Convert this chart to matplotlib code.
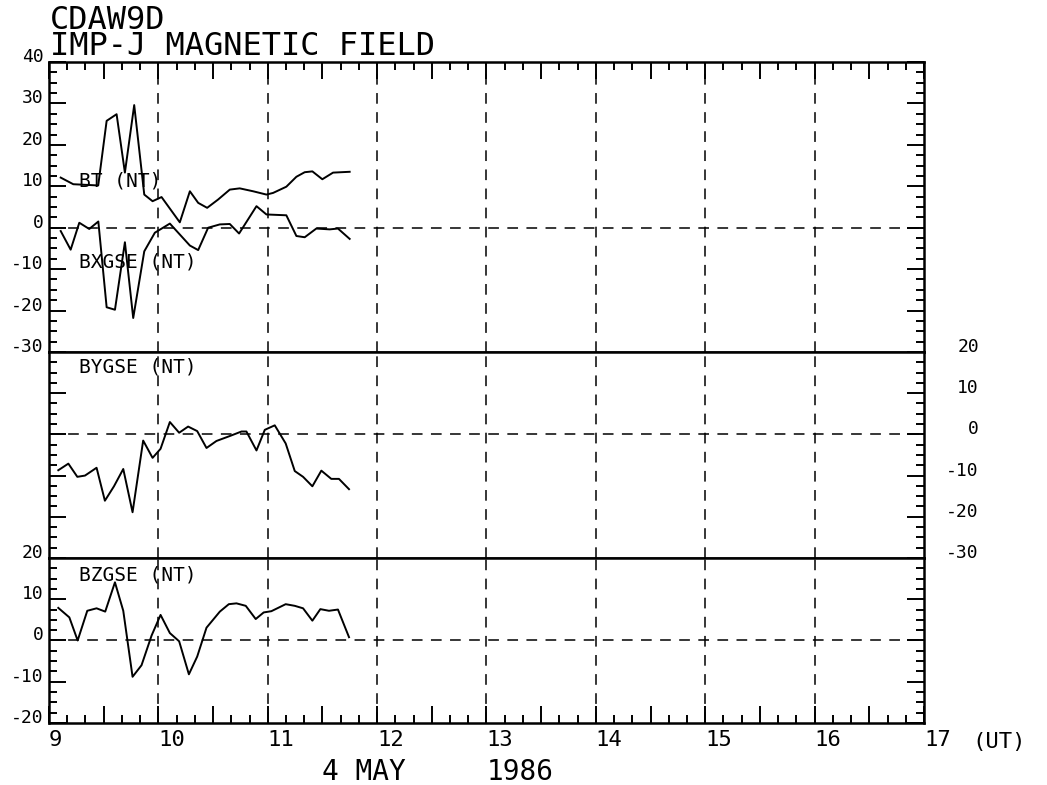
import matplotlib
matplotlib.use('Agg')
import matplotlib.pyplot as plt
import matplotlib.transforms as mtransforms
from matplotlib.ticker import MultipleLocator, FuncFormatter

# IMP-J magnetic field, 4 May 1986 (UT hours)
bt_time = [9.107, 9.222, 9.45, 9.527, 9.618, 9.694, 9.779, 9.871, 9.947, 10.029, 10.196, 10.288, 10.364,
           10.446, 10.546, 10.653, 10.744, 10.866, 10.988, 11.049, 11.17, 11.262, 11.338, 11.408, 11.499,
           11.597, 11.749]
bt_vals = [12.1, 10.5, 10.2, 25.8, 27.4, 13.3, 29.6, 8.0, 6.4, 7.4, 1.3, 8.8, 6.0,
           4.8, 6.8, 9.2, 9.5, 8.8, 8.0, 8.4, 9.9, 12.3, 13.4, 13.6, 11.7,
           13.3, 13.5]

bx_time = [9.107, 9.198, 9.277, 9.368, 9.451, 9.527, 9.603, 9.694, 9.770, 9.871, 9.968, 10.105, 10.288,
           10.364, 10.455, 10.562, 10.653, 10.738, 10.897, 10.988, 11.170, 11.262, 11.338, 11.444, 11.566,
           11.642, 11.749]
bx_vals = [-0.8, -5.3, 1.2, -0.3, 1.5, -19.2, -19.8, -3.5, -21.8, -5.7, -1.2, 1.0, -4.3,
           -5.4, 0.0, 0.8, 0.9, -1.4, 5.2, 3.2, 3.0, -2.0, -2.3, -0.2, -0.4,
           -0.2, -2.7]

by_time = [9.085, 9.177, 9.259, 9.329, 9.435, 9.511, 9.594, 9.679, 9.764, 9.861, 9.947, 10.020, 10.105,
           10.190, 10.272, 10.355, 10.440, 10.531, 10.653, 10.760, 10.805, 10.897, 10.973, 11.064, 11.164,
           11.247, 11.323, 11.408, 11.490, 11.581, 11.651, 11.743]
by_vals = [-8.7, -7.1, -10.3, -10.0, -8.1, -16.1, -12.6, -8.4, -18.9, -1.5, -5.7, -3.5, 3.0,
           0.4, 1.9, 0.8, -3.3, -1.6, -0.4, 0.7, 0.7, -3.9, 1.1, 2.2, -2.2,
           -8.9, -10.3, -12.6, -8.8, -10.8, -10.8, -13.3]

bz_time = [9.085, 9.186, 9.262, 9.350, 9.435, 9.514, 9.603, 9.679, 9.764, 9.846, 9.938, 10.020, 10.105,
           10.190, 10.279, 10.355, 10.440, 10.562, 10.644, 10.714, 10.799, 10.890, 10.963, 11.033, 11.164,
           11.247, 11.323, 11.408, 11.481, 11.560, 11.642, 11.743]
bz_vals = [7.9, 5.6, 0.0, 7.2, 7.8, 7.0, 14.1, 7.2, -8.8, -6.0, 1.2, 6.2, 1.8,
           -0.2, -8.2, -3.9, 3.1, 7.0, 8.8, 9.0, 8.4, 5.2, 6.8, 7.1, 8.8,
           8.4, 7.8, 4.8, 7.6, 7.2, 7.5, 0.8]

hour_lines = [10, 11, 12, 13, 14, 15, 16]

plt.rcParams['font.family'] = 'DejaVu Sans Mono'
plt.rcParams['axes.unicode_minus'] = False

DASH = (0, (7, 5.5))


def hour_label(v, pos):
    # only whole hours get a number, half hours stay blank
    if abs(v - round(v)) < 1e-6:
        return str(int(round(v)))
    return ''


def panel(ax, ylim):
    ax.set_xlim(9, 17)
    ax.set_ylim(*ylim)
    ax.xaxis.set_major_locator(MultipleLocator(0.5))
    ax.xaxis.set_minor_locator(MultipleLocator(1 / 6))
    ax.xaxis.set_major_formatter(FuncFormatter(hour_label))
    ax.yaxis.set_major_locator(MultipleLocator(10))
    ax.yaxis.set_minor_locator(MultipleLocator(2.5))
    for sp in ax.spines.values():
        sp.set_linewidth(1.8)
    ax.tick_params(which='both', direction='in', left=True, right=True, top=False, bottom=False,
                   labelbottom=False, labelleft=False, width=1.4, labelsize=13)
    ax.tick_params(which='major', length=12)
    ax.tick_params(which='minor', length=5.5)
    for h in hour_lines:
        ax.axvline(h, color='k', lw=1.1, ls=DASH)
    ax.axhline(0, color='k', lw=1.1, ls=DASH)


fig = plt.figure(figsize=(10.47, 7.85), dpi=100)
left, width = 0.0468, 0.8357
ax_top = fig.add_axes([left, 0.5516, width, 0.3694])
ax_mid = fig.add_axes([left, 0.2892, width, 0.2624], sharex=ax_top)
ax_bot = fig.add_axes([left, 0.0790, width, 0.2102], sharex=ax_top)

panel(ax_top, (-30, 40))
panel(ax_mid, (-30, 20))
panel(ax_bot, (-20, 20))

# tick labels: left on top/bottom panels, right on the middle one
ax_top.tick_params(axis='x', which='both', top=True)
ax_top.tick_params(axis='y', labelleft=True, pad=4)
ax_mid.tick_params(axis='y', labelright=True, pad=39.6)
ax_bot.tick_params(axis='y', labelleft=True, pad=4)
ax_bot.tick_params(axis='x', which='both', bottom=True, labelbottom=True, labelsize=16, pad=5)

for lbl in ax_top.get_yticklabels() + ax_bot.get_yticklabels():
    lbl.set_va('baseline')
for lbl in ax_mid.get_yticklabels(which='major'):
    lbl.set_va('baseline')
    lbl.set_ha('right')
for lbl in ax_bot.get_xticklabels():
    lbl.set_ha('left')

ax_top.plot(bt_time, bt_vals, color='k', lw=1.4)
ax_top.plot(bx_time, bx_vals, color='k', lw=1.4)
ax_mid.plot(by_time, by_vals, color='k', lw=1.4)
ax_bot.plot(bz_time, bz_vals, color='k', lw=1.4)

ax_top.text(9.274, 10.0, 'BT (NT)', fontsize=14, va='baseline')
ax_top.text(9.274, -9.6, 'BXGSE (NT)', fontsize=14, va='baseline')
ax_mid.text(9.274, 15.1, 'BYGSE (NT)', fontsize=14, va='baseline')
ax_bot.text(9.274, 14.5, 'BZGSE (NT)', fontsize=14, va='baseline')

# two title lines as one text block
fig.text(0.0478, 0.994, 'CDAW9D\nIMP-J MAGNETIC FIELD', fontsize=23, va='top', linespacing=0.8)

trans = mtransforms.blended_transform_factory(ax_bot.transData, fig.transFigure)
fig.text(17.44, 0.0471, '(UT)', fontsize=16, va='baseline', transform=trans)
fig.text(11.5, 0.0064, '4 MAY', fontsize=20, va='baseline', transform=trans)
fig.text(13.0, 0.0064, '1986', fontsize=20, va='baseline', transform=trans)

fig.savefig('out.png', dpi=100, facecolor='white')
